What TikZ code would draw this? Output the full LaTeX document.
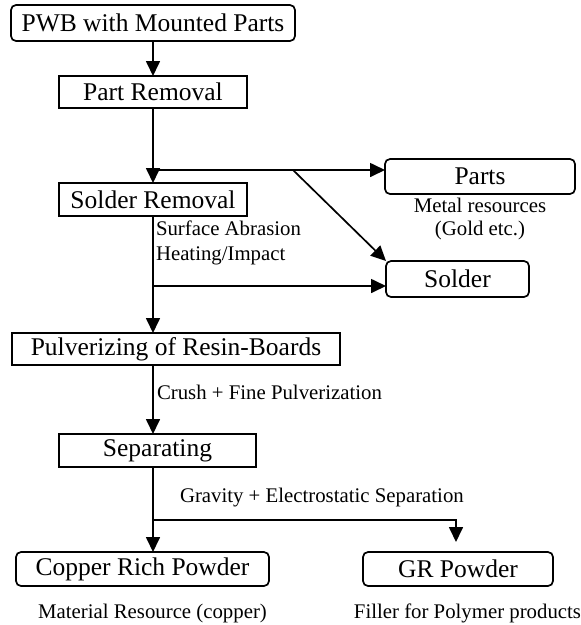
\documentclass[tikz,border=0pt]{standalone}
\usepackage{fontspec}
\setmainfont{Liberation Serif}
\usetikzlibrary{arrows.meta}
\begin{document}
\begin{tikzpicture}[x=1pt,y=-1pt,
  every node/.style={inner sep=0pt, outer sep=0pt},
  boxsq/.style={draw, line width=1.7pt, font=\fontsize{25.5}{30}\selectfont},
  boxrd/.style={boxsq, rounded corners=5pt},
  lbl/.style={font=\fontsize{20.8}{25}\selectfont},
  arr/.style={line width=1.7pt, -{Triangle[length=15pt,width=14pt]}},
  ln/.style={line width=1.7pt}]
\useasboundingbox (0,0) rectangle (581,625);
% boxes
\node[boxrd, minimum width=284pt, minimum height=36pt] (pwb) at (153,23) {PWB with Mounted Parts};
\node[boxsq, minimum width=188pt, minimum height=32pt] (pr) at (153,92) {Part Removal};
\node[boxsq, minimum width=188pt, minimum height=33pt] (sr) at (153,199.5) {Solder Removal};
\node[boxsq, minimum width=328pt, minimum height=32pt] (pul) at (176,349) {Pulverizing of Resin-Boards};
\node[boxsq, minimum width=197pt, minimum height=33pt] (sep) at (157.5,450.5) {Separating};
\node[boxrd, minimum width=253pt, minimum height=34pt] (cu) at (142.5,569) {Copper Rich Powder};
\node[boxrd, minimum width=190pt, minimum height=34pt] (gr) at (458,569) {GR Powder};
\node[boxrd, minimum width=190pt, minimum height=35pt] (parts) at (480,176.5) {Parts};
\node[boxrd, minimum width=143pt, minimum height=36pt] (sol) at (457.5,279) {Solder};
% labels
\node[lbl, anchor=base west] (la1) at (156,235) {Surface Abrasion};
\node[lbl, anchor=base west] (la2) at (156,260) {Heating/Impact};
\node[lbl, anchor=base] (lm1) at (480,212) {Metal resources};
\node[lbl, anchor=base] (lm2) at (480,235) {(Gold etc.)};
\node[lbl, anchor=base west] (lc) at (157,399) {Crush + Fine Pulverization};
\node[lbl, anchor=base west] (lg) at (180,502) {Gravity + Electrostatic Separation};
\node[lbl, anchor=base] (lmat) at (152.5,618) {Material Resource (copper)};
\node[lbl, anchor=base] (lfil) at (467.5,618) {Filler for Polymer products};
% branch points
\coordinate (b1) at (153,170);
\coordinate (b2) at (293,170);
\coordinate (b3) at (153,286);
\coordinate (b4) at (153,520);
\coordinate (g) at (456,542);
% connectors
\draw[arr] (pwb.south) -- (pr.north);
\draw[arr] (pr.south) -- (sr.north);
\draw[arr] (b1) -- (b1 -| parts.west);
\draw[arr] (b2) -- (sol.north west);
\draw[arr] (sr.south) -- (sr.south |- pul.north);
\draw[arr] (b3) -- (b3 -| sol.west);
\draw[arr] (sr.south |- pul.south) -- (sr.south |- sep.north);
\draw[arr] (sr.south |- sep.south) -- (sr.south |- cu.north);
\draw[arr] (b4) -| (g);
\end{tikzpicture}
\end{document}
